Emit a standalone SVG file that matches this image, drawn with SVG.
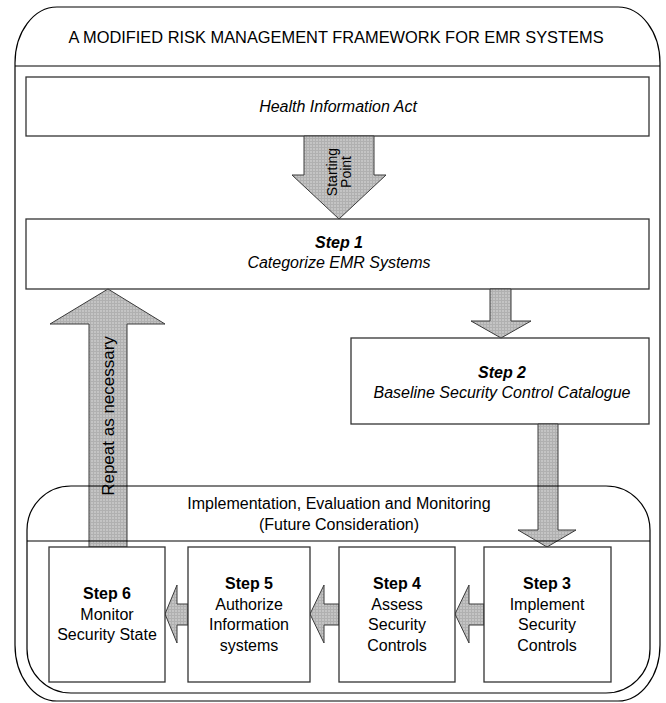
<svg xmlns="http://www.w3.org/2000/svg" width="666" height="703" viewBox="0 0 666 703">
  <defs>
    <!-- fine grain fill used by the block arrows -->
    <pattern id="grain" width="3" height="3" patternUnits="userSpaceOnUse">
      <rect width="3" height="3" fill="#c4c4c4"/>
      <path d="M0 0.5H3M0.5 0V3" stroke="#b0b0b0" stroke-width="1"/>
    </pattern>
  </defs>
  <style>
    .frame{fill:none;stroke:#000;stroke-width:1.2}
    .box{fill:#fff;stroke:#333;stroke-width:1.3}
    .arrow{fill:url(#grain);stroke:#3a3a3a;stroke-width:1}
    text{font-family:"Liberation Sans",Arial,Helvetica,sans-serif;font-size:16px;fill:#000;text-anchor:middle}
    .title{font-size:16.4px}
    .it{font-style:italic}
    .b{font-weight:bold}
    .small{font-size:14px}
    .rot{font-size:17px}
  </style>

  <rect width="666" height="703" fill="#fff"/>

  <!-- outer framework container -->
  <g id="framework">
    <rect class="frame" x="15" y="7" width="645" height="694" rx="42" ry="56"/>
    <line class="frame" x1="15" y1="66" x2="660" y2="66"/>
    <text class="title" x="336" y="43">A MODIFIED RISK MANAGEMENT FRAMEWORK FOR EMR SYSTEMS</text>
  </g>

  <g id="health-act">
    <rect class="box" x="26" y="77" width="623" height="59"/>
    <text class="it" x="338" y="112">Health Information Act</text>
  </g>

  <g id="step1">
    <rect class="box" x="26" y="219" width="623" height="70"/>
    <text class="it b" x="339" y="248">Step 1</text>
    <text class="it" x="339" y="268">Categorize EMR Systems</text>
  </g>

  <g id="step2">
    <rect class="box" x="351" y="338" width="298" height="86"/>
    <text class="it b" x="502" y="377.5">Step 2</text>
    <text class="it" x="502" y="397.5">Baseline Security Control Catalogue</text>
  </g>

  <!-- block arrows -->
  <g id="connectors">
    <g id="start-arrow">
      <polygon class="arrow" points="304,136 374,136 374,175 386,175 339,219 292,175 304,175"/>
      <g transform="translate(339,172) rotate(-90)">
        <text class="small" x="0" y="-2">Starting</text>
        <text class="small" x="0" y="12">Point</text>
      </g>
    </g>
    <polygon id="step1-to-step2" class="arrow" points="490,289 511,289 511,321 531,321 501,338 471,321 490,321"/>
    <polygon id="step2-to-step3" class="arrow" points="538,424 558,424 558,530 576,530 547,547 518,530 538,530"/>
    <g id="repeat-arrow">
      <polygon class="arrow" points="89,547 89,324 50,324 108,289 165,324 127,324 127,547"/>
      <text class="rot" transform="translate(108,416) rotate(-90)" x="0" y="6">Repeat as necessary</text>
    </g>
    <polygon id="step3-to-step4" class="arrow" points="484,604 469,604 469,585 455,614 469,643 469,625 484,625"/>
    <polygon id="step4-to-step5" class="arrow" points="339,604 324,604 324,585 310,614 324,643 324,625 339,625"/>
    <polygon id="step5-to-step6" class="arrow" points="188,604 177,604 177,585 165,614 177,643 177,625 188,625"/>
  </g>

  <!-- implementation, evaluation and monitoring container -->
  <g id="implementation">
    <rect class="frame" x="27" y="486" width="623" height="207" rx="44" ry="44"/>
    <line class="frame" x1="27" y1="541" x2="650" y2="541"/>
    <text x="339" y="509">Implementation, Evaluation and Monitoring</text>
    <text x="339" y="530">(Future Consideration)</text>
  </g>

  <g id="step6">
    <rect class="box" x="49" y="547" width="116" height="135"/>
    <text class="b" x="107" y="599">Step 6</text>
    <text x="107" y="619.5">Monitor</text>
    <text x="107" y="640">Security State</text>
  </g>

  <g id="step5">
    <rect class="box" x="188" y="547" width="122" height="135"/>
    <text class="b" x="249" y="589">Step 5</text>
    <text x="249" y="609.5">Authorize</text>
    <text x="249" y="630">Information</text>
    <text x="249" y="650.5">systems</text>
  </g>

  <g id="step4">
    <rect class="box" x="339" y="547" width="116" height="135"/>
    <text class="b" x="397" y="589">Step 4</text>
    <text x="397" y="609.5">Assess</text>
    <text x="397" y="630">Security</text>
    <text x="397" y="650.5">Controls</text>
  </g>

  <g id="step3">
    <rect class="box" x="484" y="547" width="127" height="135"/>
    <text class="b" x="547" y="589">Step 3</text>
    <text x="547" y="609.5">Implement</text>
    <text x="547" y="630">Security</text>
    <text x="547" y="650.5">Controls</text>
  </g>
</svg>
